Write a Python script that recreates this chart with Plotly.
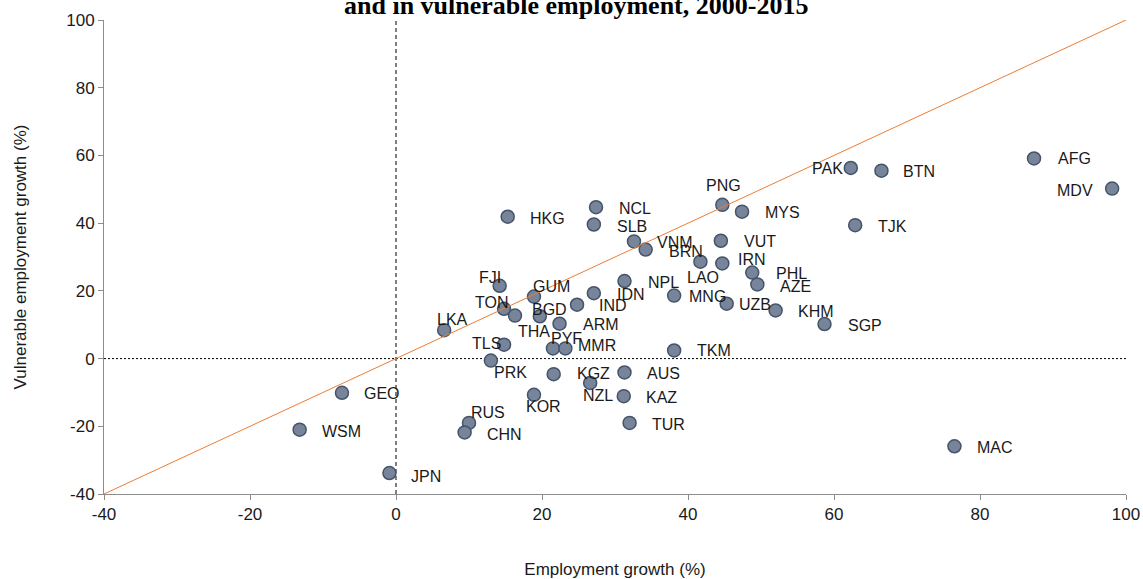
import plotly.graph_objects as go

# ---------------- data ----------------
codes = ["AFG", "MDV", "PAK", "BTN", "PNG", "MYS", "TJK", "HKG", "NCL", "SLB",
         "VNM", "BRN", "VUT", "IRN", "LAO", "PHL", "AZE", "NPL", "IDN", "MNG",
         "UZB", "KHM", "SGP", "FJI", "GUM", "TON", "BGD", "THA", "IND", "ARM",
         "LKA", "TLS", "PYF", "MMR", "TKM", "PRK", "KGZ", "AUS", "NZL", "KAZ",
         "KOR", "RUS", "CHN", "TUR", "GEO", "WSM", "JPN", "MAC"]
employment_growth = [87.4, 98.1, 62.3, 66.5, 44.7, 47.4, 62.9, 15.3, 27.4, 27.1,
                     32.6, 34.2, 44.5, 44.7, 41.7, 48.8, 49.5, 31.3, 27.1, 38.1,
                     45.3, 52.0, 58.7, 14.2, 18.9, 14.8, 19.7, 16.3, 24.8, 22.4,
                     6.6, 14.8, 21.5, 23.2, 38.1, 13.0, 21.6, 31.3, 26.6, 31.2,
                     18.9, 10.0, 9.4, 32.0, -7.4, -13.2, -0.9, 76.5]
vulnerable_growth = [59.1, 50.2, 56.3, 55.5, 45.4, 43.4, 39.4, 41.9, 44.7, 39.6,
                     34.6, 32.2, 34.8, 28.1, 28.6, 25.4, 21.9, 22.9, 19.3, 18.6,
                     16.2, 14.2, 10.2, 21.5, 18.3, 14.7, 12.5, 12.7, 15.9, 10.3,
                     8.4, 4.1, 3.0, 3.0, 2.4, -0.6, -4.6, -4.1, -7.2, -11.1,
                     -10.7, -19.0, -21.8, -19.0, -10.1, -21.0, -33.8, -25.9]
axis_ticks = [-40, -20, 0, 20, 40, 60, 80, 100]
axis_tick_labels = ["-40", "-20", "0", "20", "40", "60", "80", "100"]
title_line = "and in vulnerable employment, 2000-2015"
x_title = "Employment growth (%)"
y_title = "Vulnerable employment growth (%)"

# ---------------- label placement (pixel offsets, styling) ----------------
label_offsets = {
    "AFG": (40, 0), "MDV": (-37, 2), "PAK": (-23, 1), "BTN": (38, 1),
    "PNG": (1, -19), "MYS": (40, 1), "TJK": (37, 1), "HKG": (40, 2),
    "NCL": (39, 1), "SLB": (38, 2), "VNM": (41, 1), "BRN": (40, 2),
    "VUT": (39, 1), "IRN": (30, -4), "LAO": (3, 16), "PHL": (39, 1),
    "AZE": (38, 2), "NPL": (39, 1), "IDN": (37, 1), "MNG": (33, 1),
    "UZB": (28, 1), "KHM": (40, 1), "SGP": (40, 1), "FJI": (-10, -8),
    "GUM": (18, -10), "TON": (-13, -6), "BGD": (10, -7), "THA": (19, 16),
    "IND": (36, 1), "ARM": (41, 1), "LKA": (8, -11), "TLS": (-18, -1),
    "PYF": (14, -10), "MMR": (32, -3), "TKM": (40, 0), "PRK": (20, 12),
    "KGZ": (40, -1), "AUS": (39, 1), "NZL": (8, 13), "KAZ": (38, 1),
    "KOR": (10, 12), "RUS": (19, -10), "CHN": (40, 2), "TUR": (39, 2),
    "GEO": (40, 1), "WSM": (42, 2), "JPN": (37, 3), "MAC": (41, 1),
}

FONT = "Liberation Sans, Arial, sans-serif"
AXIS_COLOR = "#8c8c8c"
TEXT_COLOR = "#1a1a1a"

fig = go.Figure()

# zero reference lines
fig.add_trace(go.Scatter(x=[0, 0], y=[axis_ticks[0], axis_ticks[-1]], mode="lines",
                         line=dict(color="black", width=1, dash="4px,3px"),
                         hoverinfo="skip", showlegend=False))
fig.add_trace(go.Scatter(x=[axis_ticks[0], axis_ticks[-1]], y=[0, 0], mode="lines",
                         line=dict(color="black", width=1, dash="2px,2px"),
                         hoverinfo="skip", showlegend=False))

# points
fig.add_trace(go.Scatter(
    x=employment_growth, y=vulnerable_growth, mode="markers", text=codes,
    marker=dict(size=13, color="#77849a", line=dict(color="#44546a", width=1.5)),
    showlegend=False))

# 45-degree line (drawn above markers)
fig.add_trace(go.Scatter(x=[axis_ticks[0], axis_ticks[-1]], y=[axis_ticks[0], axis_ticks[-1]],
                         mode="lines", line=dict(color="#ED7D31", width=1),
                         hoverinfo="skip", showlegend=False))

annotations = []
for c, xv, yv in zip(codes, employment_growth, vulnerable_growth):
    dx, dy = label_offsets[c]
    annotations.append(dict(x=xv, y=yv, xref="x", yref="y", text=c, showarrow=False,
                            xshift=dx, yshift=-dy, xanchor="center", yanchor="middle",
                            font=dict(family=FONT, size=16, color=TEXT_COLOR)))

annotations.append(dict(x=0.462, y=1, xref="paper", yref="paper", text=f"<b>{title_line}</b>",
                        showarrow=False, xanchor="center", yanchor="bottom", yshift=-2,
                        font=dict(family="Liberation Serif, Times New Roman, serif",
                                  size=26, color="black")))

axis_common = dict(range=[axis_ticks[0], axis_ticks[-1]], tickvals=axis_ticks,
                   ticktext=axis_tick_labels, automargin=False,
                   showgrid=False, zeroline=False, showline=True, linecolor=AXIS_COLOR,
                   linewidth=1, ticks="outside", ticklen=5, tickcolor=AXIS_COLOR,
                   tickfont=dict(family=FONT, size=17, color=TEXT_COLOR))

fig.update_layout(
    width=1143, height=579,
    margin=dict(l=104, r=17, t=20, b=85, autoexpand=False),
    paper_bgcolor="white", plot_bgcolor="white",
    annotations=annotations,
    xaxis=dict(**axis_common,
               title=dict(text=x_title, standoff=41,
                          font=dict(family=FONT, size=17, color=TEXT_COLOR))),
    yaxis=dict(**axis_common,
               title=dict(text=y_title, standoff=35,
                          font=dict(family=FONT, size=17, color=TEXT_COLOR))),
)

fig.write_html("out.html", config={"displayModeBar": False},
               post_script="document.body.style.margin='0';document.body.style.overflow='hidden';")
